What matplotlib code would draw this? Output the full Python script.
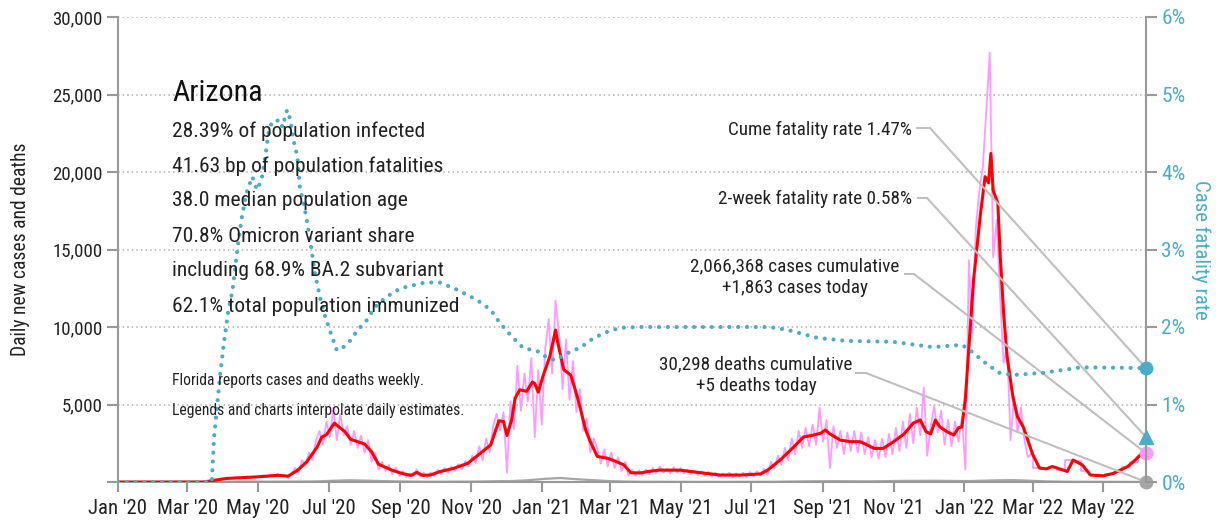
import numpy as np
import pandas as pd
import matplotlib
matplotlib.use("Agg")
import matplotlib.pyplot as plt
import matplotlib.dates as mdates
from matplotlib.lines import Line2D
from matplotlib.ticker import FuncFormatter
from matplotlib.font_manager import fontManager, FontProperties
from matplotlib.textpath import TextPath

# 7-day average of daily new cases (red line)
red_dates = ["2020-01-01", "2020-03-15", "2020-03-20", "2020-04-04", "2020-04-30", "2020-05-18",
             "2020-05-27", "2020-06-04", "2020-06-12", "2020-06-21", "2020-06-25", "2020-06-29",
             "2020-07-06", "2020-07-09", "2020-07-15", "2020-07-20", "2020-07-26", "2020-08-01",
             "2020-08-07", "2020-08-13", "2020-08-24", "2020-09-02", "2020-09-10", "2020-09-15",
             "2020-09-20", "2020-09-27", "2020-10-05", "2020-10-17", "2020-10-29", "2020-11-09",
             "2020-11-18", "2020-11-25", "2020-11-29", "2020-12-02", "2020-12-06", "2020-12-09",
             "2020-12-13", "2020-12-19", "2020-12-24", "2020-12-26", "2020-12-29", "2021-01-02",
             "2021-01-08", "2021-01-13", "2021-01-15", "2021-01-20", "2021-01-26", "2021-01-30",
             "2021-02-03", "2021-02-08", "2021-02-12", "2021-02-18", "2021-02-27", "2021-03-07",
             "2021-03-13", "2021-03-19", "2021-03-27", "2021-04-03", "2021-04-13", "2021-05-01",
             "2021-05-18", "2021-06-04", "2021-06-22", "2021-07-09", "2021-07-15", "2021-07-26",
             "2021-08-07", "2021-08-15", "2021-08-24", "2021-08-30", "2021-09-03", "2021-09-07",
             "2021-09-16", "2021-09-25", "2021-10-03", "2021-10-09", "2021-10-15", "2021-10-23",
             "2021-11-01", "2021-11-10", "2021-11-18", "2021-11-24", "2021-11-29", "2021-12-03",
             "2021-12-07", "2021-12-11", "2021-12-17", "2021-12-23", "2021-12-27", "2021-12-30",
             "2022-01-02", "2022-01-05", "2022-01-09", "2022-01-15", "2022-01-19", "2022-01-22",
             "2022-01-24", "2022-01-26", "2022-01-30", "2022-02-01", "2022-02-04", "2022-02-07",
             "2022-02-12", "2022-02-16", "2022-02-21", "2022-02-24", "2022-03-01", "2022-03-07",
             "2022-03-13", "2022-03-18", "2022-03-27", "2022-03-31", "2022-04-05", "2022-04-13",
             "2022-04-20", "2022-05-01", "2022-05-10", "2022-05-22", "2022-05-27", "2022-06-02",
             "2022-06-07"]
red_values = [0, 0, 60, 230, 330, 430,
              380, 750, 1300, 2250, 2900, 3050,
              3800, 3600, 3250, 2750, 2600, 2450,
              1950, 1150, 780, 560, 420, 620,
              430, 450, 670, 880, 1200, 1850,
              2400, 3950, 3900, 3000, 4000, 5400,
              5950, 5850, 6450, 6350, 5800, 6800,
              8100, 9800, 8950, 7250, 6900, 5950,
              4850, 3350, 2600, 1650, 1530, 1300,
              1100, 600, 580, 680, 770, 760,
              600, 450, 450, 520, 760, 1420,
              2280, 2900, 3030, 3150, 3350, 3100,
              2700, 2600, 2600, 2400, 2170, 2170,
              2600, 3100, 3800, 4000, 3250, 3100,
              4000, 3550, 3250, 3030, 3500, 3550,
              5400, 8700, 13000, 17300, 19700, 19300,
              21200, 18800, 18000, 14700, 10900, 8100,
              5500, 4200, 3550, 2900, 1800, 900,
              850, 1000, 780, 680, 1420, 1100,
              450, 400, 560, 990, 1300, 1740,
              1830]

# daily new cases (pink), read every 3 days from 2020-03-01 to 2022-02-28
pink_start = "2020-03-01"
pink_step_days = 3
pink_values = [0, 0, 0, 0, 0, 10, 50,
               120, 160, 200, 230, 180, 270, 250, 300, 220, 280, 340, 260, 350, 300, 380, 420,
               310, 470, 400, 520, 380, 430, 250, 550,
               900, 600, 1400, 1100, 1900, 1400, 2700, 3300, 2400, 3900, 2900, 4800, 2700, 4400,
               3000, 3600, 2400, 3300, 2200, 3000, 1900, 2700, 1300, 1900, 800, 1300, 700, 1100,
               500, 950, 400,
               700, 300, 550, 380, 800, 350, 600, 300, 620, 400, 780, 520, 900, 600, 1000, 700,
               1150, 800, 1350, 1000, 1700, 1200,
               2300, 1400, 2800, 1900, 3600, 4400, 3300, 4500, 600, 5200, 3400, 7500, 4600, 7000,
               5200, 8000, 2900,
               7200, 3700, 8600, 10500, 7000, 11700, 9500, 6000, 9200, 5300, 7800, 4500, 6000,
               3300, 4100, 1900, 2800,
               2200, 1200, 2100, 1000, 1900, 900, 1600, 700, 1300, 400, 800, 400, 750, 450,
               800, 500, 900, 550, 1000, 600, 850, 550, 950, 600, 900, 550, 800, 500, 750, 450,
               700, 400, 650, 350, 600, 300, 550, 350, 600, 300, 550, 350, 600, 300, 650, 350,
               700, 400,
               850, 450, 1300, 900, 1700, 1100, 2200, 1400, 2800, 1800, 3300, 2200, 3500, 2300,
               3700, 2400, 4800, 2600, 4000, 900, 3600, 2200, 3300, 1800,
               3200, 2000, 3300, 1900, 3200, 1800, 2900, 1600, 2700, 1500, 2800, 1600, 3100, 1800,
               3500, 2000, 3900, 2200, 4400, 2500, 4800, 3000, 6100, 1700, 3600, 4900, 3200, 4600,
               2400, 4000, 2300, 3900, 2600, 4200,
               800, 14300, 9600, 16400, 18800, 20300, 23900, 27700, 14500, 16900, 11900, 7700,
               8700, 2700, 5500, 3200, 4800, 2700, 1600, 1800]

# weekly reporting from March 2022: same value every day of the week
pink_week_start = "2022-03-01"
pink_week_values = [900, 850, 1000, 750, 1450, 1350, 700, 420, 400, 500, 650, 950, 1300, 1700]
last_date = "2022-06-07"
cases_today = 1863

# daily deaths (gray), every 14 days from 2020-03-01
death_start = "2020-03-01"
death_step_days = 14
death_values = [0, 0, 10, 25, 30, 20, 25, 30, 40, 80, 110, 90, 60, 40, 25, 15, 20, 25, 30, 50,
                60, 110, 200, 260, 180, 120, 60, 30, 15, 15, 10, 10, 8, 8, 12, 10, 15, 25, 40, 50,
                55, 45, 40, 55, 70, 75, 80, 70, 60, 80, 110, 120, 80, 40, 20, 15, 10, 8, 5, 5]
deaths_today = 5

# case fatality rate, percent (right axis)
cfr_dates = ["2020-01-01", "2020-03-22", "2020-03-24", "2020-03-29", "2020-04-01", "2020-04-05",
             "2020-04-09", "2020-04-13", "2020-04-17", "2020-04-21", "2020-04-26", "2020-04-30",
             "2020-05-04", "2020-05-07", "2020-05-10", "2020-05-13", "2020-05-20", "2020-05-22",
             "2020-05-26", "2020-05-29", "2020-05-31", "2020-06-04", "2020-06-06", "2020-06-11",
             "2020-06-15", "2020-06-19", "2020-06-24", "2020-06-28", "2020-07-04", "2020-07-08",
             "2020-07-13", "2020-07-20", "2020-07-26", "2020-08-03", "2020-08-10", "2020-08-20",
             "2020-09-01", "2020-09-21", "2020-10-04", "2020-10-20", "2020-11-06", "2020-11-18",
             "2020-11-26", "2020-12-06", "2020-12-16", "2020-12-30", "2021-01-05", "2021-01-13",
             "2021-01-20", "2021-02-04", "2021-02-15", "2021-02-27", "2021-03-10", "2021-03-26",
             "2021-07-17", "2021-08-02", "2021-08-27", "2021-09-22", "2021-10-31", "2021-12-05",
             "2021-12-30", "2022-01-06", "2022-01-19", "2022-01-31", "2022-02-12", "2022-03-11",
             "2022-04-12", "2022-06-07"]
cfr_values = [0, 0, 0.58, 1.35, 1.74, 2.18,
              2.48, 2.99, 3.42, 3.73, 3.94, 3.77,
              3.90, 4.18, 4.50, 4.65, 4.67, 4.58,
              4.80, 4.67, 4.45, 4.19, 3.81, 3.47,
              3.12, 2.70, 2.35, 2.13, 1.87, 1.70,
              1.73, 1.83, 1.96, 2.09, 2.26, 2.39,
              2.50, 2.57, 2.58, 2.48, 2.35, 2.22,
              2.05, 1.88, 1.73, 1.68, 1.61, 1.57,
              1.64, 1.74, 1.86, 1.94, 1.99, 2.00,
              2.00, 1.96, 1.86, 1.82, 1.81, 1.74,
              1.77, 1.70, 1.54, 1.41, 1.38, 1.41,
              1.48, 1.47]
cume_cfr = 1.47
two_week_cfr = 0.58

title = "Arizona"
stats = ["28.39% of population infected",
         "41.63 bp of population fatalities",
         "38.0 median population age",
         "70.8% Omicron variant share",
         "including 68.9% BA.2 subvariant",
         "62.1% total population immunized"]
notes = ["Florida reports cases and deaths weekly.",
         "Legends and charts interpolate daily estimates."]

PINK = "#ff99ff"
RED = "#ff0000"
TEAL = "#4bacc6"
GRAY = "#a6a6a6"
AXGRAY = "#999999"
LINEGRAY = "#bfbfbf"
INK = "#222222"

# the reference uses a condensed face: take the narrowest regular sans installed
families = ["Liberation Sans Narrow", "Roboto Condensed", "DejaVu Sans", "Liberation Sans",
            "Noto Sans", "Roboto", "Lato", "Open Sans", "Inter"]
probe = stats[0]
best = None
for f in fontManager.ttflist:
    if f.name not in families or f.style != "normal":
        continue
    if f.weight not in (400, "normal", "regular", "book"):
        continue
    w = TextPath((0, 0), probe, size=16.5, prop=FontProperties(fname=f.fname)).get_extents().width
    if best is None or w < best[0]:
        best = (w, f)
plt.rcParams['font.family'] = [best[1].name, "DejaVu Sans"]
plt.rcParams['font.stretch'] = best[1].stretch
# scale text so the stats line is as wide as in the reference (251 px)
k = 251 / (best[0] * 100 / 72)


def fs(size):
    return size * k


# build date axes
pink_dates = pd.date_range(pink_start, periods=len(pink_values), freq=f"{pink_step_days}D")
week_dates = pd.date_range(pink_week_start, periods=len(pink_week_values), freq="7D")
end = pd.Timestamp(last_date)
step_x = [pink_dates[-1]] + list(week_dates) + [end]
step_y = [pink_values[-1]] + pink_week_values + [cases_today]
death_dates = pd.date_range(death_start, periods=len(death_values), freq=f"{death_step_days}D")
red_x = pd.to_datetime(red_dates)
cfr_x = pd.to_datetime(cfr_dates)

fig = plt.figure(figsize=(12.32, 5.22), dpi=100)
ax = fig.add_axes([118 / 1232, 1 - 482 / 522, (1146 - 118) / 1232, (482 - 17) / 522])
ax2 = ax.twinx()

ax.plot(pink_dates, pink_values, color=PINK, lw=1.3, zorder=2)
ax.plot(step_x, step_y, color=PINK, lw=1.3, drawstyle="steps-post", zorder=2)
ax.plot(list(death_dates) + [end], death_values + [deaths_today], color=GRAY, lw=1.6, zorder=2)
ax.plot(red_x, red_values, color=RED, lw=2.2, zorder=3)

ax2.plot(cfr_x, cfr_values, color=TEAL, lw=3, linestyle=(0, (0.01, 2.1)),
         dash_capstyle="round", zorder=3)

# end markers
ax.plot(end, cases_today, "o", color=PINK, ms=9, clip_on=False, zorder=6)
ax.plot(end, deaths_today, "o", color=GRAY, ms=9, clip_on=False, zorder=6)
ax2.plot(end, cume_cfr, "o", color=TEAL, ms=9, clip_on=False, zorder=6)
ax2.plot(end, two_week_cfr, "^", color=TEAL, ms=10, clip_on=False, zorder=6)

# axes
ax.set_xlim(pd.Timestamp("2020-01-01"), end)
ax.set_ylim(0, 30000)
ax2.set_ylim(0, 6)
ax.set_yticks(np.arange(0, 30001, 5000))
ax.yaxis.set_major_formatter(FuncFormatter(lambda v, p: "" if v == 0 else f"{int(v):,}"))
ax2.set_yticks(np.arange(0, 7, 1))
ax2.yaxis.set_major_formatter(FuncFormatter(lambda v, p: f"{int(v)}%"))
ax.xaxis.set_major_locator(mdates.MonthLocator(bymonth=[1, 3, 5, 7, 9, 11]))
ax.xaxis.set_major_formatter(mdates.DateFormatter("%b '%y"))

ax.yaxis.grid(True, color="#b0b0b0", linestyle=(0, (1, 2)), lw=1.1)
ax.set_axisbelow(True)

for a in (ax, ax2):
    a.spines["top"].set_visible(False)
    for s in ("left", "right", "bottom"):
        a.spines[s].set_color(AXGRAY)
        a.spines[s].set_linewidth(1.5)
ax.spines["right"].set_visible(False)
ax2.spines["left"].set_visible(False)
ax2.spines["bottom"].set_visible(False)

ax.tick_params(axis="y", length=8, width=1.5, color=AXGRAY, labelsize=fs(14.5), pad=3, labelcolor=INK)
ax.tick_params(axis="x", length=7, width=1.5, color=AXGRAY, labelsize=fs(16), pad=5, labelcolor=INK)
ax2.tick_params(axis="y", length=8, width=1.5, color=AXGRAY, labelsize=fs(16.5), pad=3, labelcolor=TEAL)

ax.set_ylabel("Daily new cases and deaths", fontsize=fs(15), color=INK, labelpad=16)
ax2.set_ylabel("Case fatality rate", fontsize=fs(16), color=TEAL, rotation=270, labelpad=18)

# text block
fig.text(172 / 1232, 1 - 93 / 522, title, fontsize=fs(23), va="center", ha="left", color="#111111")
for i, line in enumerate(stats):
    fig.text(172 / 1232, 1 - (131 + 35 * i) / 522, line, fontsize=fs(16.5), va="center", ha="left",
             color=INK)
for i, line in enumerate(notes):
    fig.text(172 / 1232, 1 - (380 + 30 * i) / 522, line, fontsize=fs(12), va="center", ha="left",
             color=INK)

# callouts
fig.text(912 / 1232, 1 - 130 / 522, f"Cume fatality rate {cume_cfr:.2f}%", fontsize=fs(14.7),
         ha="right", va="center", color=INK)
fig.text(912 / 1232, 1 - 199 / 522, f"2-week fatality rate {two_week_cfr:.2f}%", fontsize=fs(14.7),
         ha="right", va="center", color=INK)
fig.text(795 / 1232, 1 - 277 / 522, "2,066,368 cases cumulative\n+1,863 cases today", fontsize=fs(14.7),
         ha="center", va="center", color=INK, linespacing=1.3)
fig.text(756 / 1232, 1 - 375 / 522, "30,298 deaths cumulative\n+5 deaths today", fontsize=fs(14.7),
         ha="center", va="center", color=INK, linespacing=1.3)

callouts = [(ax2, cume_cfr, 917, 930, 128),
            (ax2, two_week_cfr, 918, 927, 198),
            (ax, cases_today, 905, 914, 274),
            (ax, deaths_today, 856, 866, 373)]
for a, val, x0, x1, y in callouts:
    fig.add_artist(Line2D([x0 / 1232, x1 / 1232], [1 - y / 522, 1 - y / 522],
                          transform=fig.transFigure, color=LINEGRAY, lw=1.5))
    a.annotate("", xy=(end, val), xytext=(x1 / 1232, 1 - y / 522), textcoords="figure fraction",
               arrowprops=dict(arrowstyle="-", color=LINEGRAY, lw=1.5, shrinkA=0, shrinkB=0),
               zorder=5)

fig.savefig("out.png", dpi=100)
